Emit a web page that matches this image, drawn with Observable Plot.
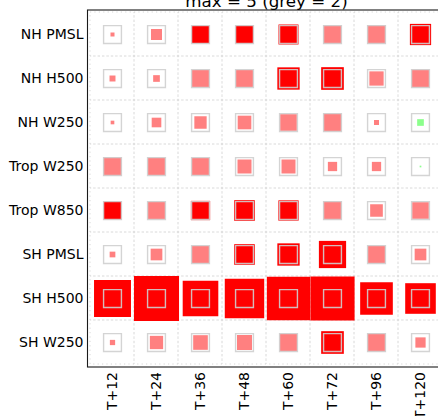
<!DOCTYPE html>
<html>
<head>
<meta charset="utf-8">
<script src="https://cdn.jsdelivr.net/npm/d3@7"></script>
<script src="https://cdn.jsdelivr.net/npm/@observablehq/plot@0.6"></script>
<style>
  html, body { margin: 0; padding: 0; background: #fff; overflow: hidden; }
  #chart svg { max-width: none !important; height: 416px !important; display: block; }
</style>
</head>
<body>
<div id="chart"></div>
<script>
const rows = ["NH PMSL", "NH H500", "NH W250", "Trop W250", "Trop W850", "SH PMSL", "SH H500", "SH W250"];
const cols = ["T+12", "T+24", "T+36", "T+48", "T+60", "T+72", "T+96", "T+120"];

// Square size (negative = green)
const nhPmsl   = [0.45, 1.23, 1.98, 2.01, 2.24, 2.05, 2.09, 2.38];
const nhH500   = [0.67, 0.75, 1.94, 1.90, 2.50, 2.54, 1.60, 2.01];
const nhW250   = [0.41, 1.08, 1.38, 1.53, 1.87, 2.01, 0.56, -0.75];
const tropW250 = [2.09, 1.98, 1.94, 1.57, 1.57, 1.04, 1.04, -0.19];
const tropW850 = [2.05, 1.98, 2.16, 2.31, 2.27, 2.05, 1.42, 1.87];
const shPmsl   = [0.64, 1.31, 1.94, 2.31, 2.50, 3.05, 1.98, 1.31];
const shH500   = [4.14, 5.05, 3.99, 4.42, 4.85, 4.95, 3.66, 3.43];
const shW250   = [0.59, 1.49, 1.64, 1.68, 1.98, 2.54, 2.05, 1.15];

// Significant (full colour) flags
const sigNhPmsl   = [0, 0, 1, 1, 1, 0, 0, 1];
const sigNhH500   = [0, 0, 0, 0, 1, 1, 0, 0];
const sigNhW250   = [0, 0, 0, 0, 0, 0, 0, 0];
const sigTropW250 = [0, 0, 0, 0, 0, 0, 0, 0];
const sigTropW850 = [1, 0, 1, 1, 1, 0, 0, 0];
const sigShPmsl   = [0, 0, 0, 1, 1, 1, 0, 0];
const sigShH500   = [1, 1, 1, 1, 1, 1, 1, 1];
const sigShW250   = [0, 0, 0, 0, 0, 1, 0, 0];

const maxValue = 5;
const greyValue = 2;

const valueRows = [nhPmsl, nhH500, nhW250, tropW250, tropW850, shPmsl, shH500, shW250];
const sigRows = [sigNhPmsl, sigNhH500, sigNhW250, sigTropW250, sigTropW850, sigShPmsl, sigShH500, sigShW250];

const cells = [];
rows.forEach((r, i) => cols.forEach((c, j) => {
  cells.push({row: r, col: c, v: valueRows[i][j], sig: sigRows[i][j]});
}));

function colour(d) {
  if (d.v < 0) return d.sig ? "#00ff00" : "#8cff8c";
  return d.sig ? "#ff0000" : "#ff8080";
}

const W = 445, H = 416, ML = 87, MT = 9.5, MB = 49.5;
const cellSide = (H - MT - MB) / rows.length;

const chart = Plot.plot({
  width: W,
  height: H,
  marginLeft: ML,
  marginRight: 0,
  marginTop: MT,
  marginBottom: MB,
  style: {fontFamily: "DejaVu Sans", fontSize: "14px", color: "#000", background: "#fff", maxWidth: "none"},
  x: {type: "band", domain: cols, padding: 0, label: null},
  y: {type: "band", domain: rows, padding: 0, label: null},
  r: {type: "linear", domain: [0, maxValue], range: [0, cellSide / Math.sqrt(Math.PI)]},
  marks: [
    Plot.cell(cells, {x: "col", y: "row", fill: "none", stroke: "#d4d4d4", strokeWidth: 0.9, strokeDasharray: "1.2,3.2"}),
    Plot.dot(cells, {x: "col", y: "row", r: d => Math.abs(d.v), symbol: "square", fill: colour, stroke: "none"}),
    Plot.dot(cells, {x: "col", y: "row", r: () => greyValue, symbol: "square", fill: "none", stroke: "#cfcfcf", strokeOpacity: 0.9, strokeWidth: 1.4}),
    Plot.frame({stroke: "#1a1a1a", strokeWidth: 1.1}),
    Plot.axisY({tickSize: 0, tickPadding: 4, fontSize: 14, label: null}),
    Plot.axisX({tickSize: 0, tickPadding: 5, tickRotate: -90, fontSize: 14, label: null}),
    Plot.text([`max = ${maxValue} (grey = ${greyValue})`], {frameAnchor: "top", lineAnchor: "bottom", dy: -3.5, fontSize: 16.7, fill: "#000"})
  ]
});
chart.style.maxWidth = "none";
document.getElementById("chart").appendChild(chart);
</script>
</body>
</html>
